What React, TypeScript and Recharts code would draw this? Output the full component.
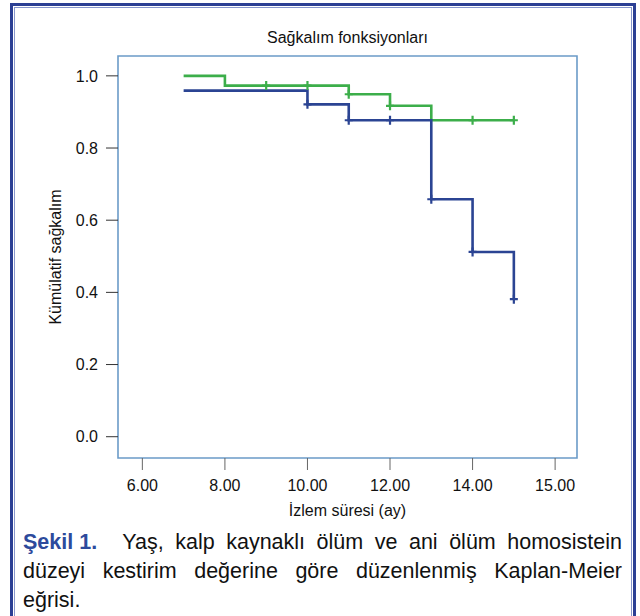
import { ComposedChart, Line, XAxis, YAxis, ReferenceArea } from "recharts";

// x axis: SPSS puts the last tick at 16 but labels it 15.00
const xTicks = [6, 8, 10, 12, 14, 16];
const xTickLabels = ["6.00", "8.00", "10.00", "12.00", "14.00", "15.00"];
const yTicks = [0, 0.2, 0.4, 0.6, 0.8, 1.0];
const xDomain = [5.41, 16.53];
const yDomain = [-0.059, 1.055];

// green group
const greenTime = [7, 8, 11, 12, 13, 15];
const greenSurv = [1.0, 0.973, 0.949, 0.917, 0.877, 0.877];
const greenCensorTime = [9, 10, 11, 12, 14, 15];
const greenCensorSurv = [0.973, 0.973, 0.949, 0.917, 0.877, 0.877];

// blue group
const blueTime = [7, 10, 11, 13, 14, 15];
const blueSurv = [0.959, 0.921, 0.877, 0.658, 0.512, 0.381];
const blueCensorTime = [10, 11, 12, 13, 14, 15];
const blueCensorSurv = [0.921, 0.877, 0.877, 0.658, 0.512, 0.381];

const GREEN = "#3cae4a";
const BLUE = "#2b4493";
const FONT = '"Liberation Sans", Arial, Helvetica, sans-serif';

const toRows = (t: number[], s: number[]) => t.map((v, i) => ({ t: v, s: s[i] }));

const plusMark = (color: string) => (props: any) => {
  const { cx, cy, index } = props;
  if (cx == null || cy == null) return <g key={index} />;
  return (
    <path
      key={index}
      d={`M${cx - 4},${cy}H${cx + 4}M${cx},${cy - 4.5}V${cy + 4.5}`}
      stroke={color}
      strokeWidth={2.2}
      fill="none"
    />
  );
};

export default function App() {
  return (
    <div
      style={{
        position: "absolute",
        left: 0,
        top: 0,
        width: 640,
        height: 616,
        background: "#fff",
        overflow: "hidden",
        fontFamily: FONT,
      }}
    >
      {/* double frame */}
      <div
        style={{
          position: "absolute",
          left: 10,
          top: 3,
          width: 620,
          height: 660,
          border: "3px solid #2b3f94",
        }}
      />
      <div
        style={{
          position: "absolute",
          left: 14,
          top: 7,
          width: 616,
          height: 660,
          border: "1px solid #8796cc",
        }}
      />

      <div
        style={{
          position: "absolute",
          left: 118,
          top: 29,
          width: 459,
          textAlign: "center",
          fontSize: 16,
          lineHeight: "18px",
          color: "#111",
        }}
      >
        Sağkalım fonksiyonları
      </div>

      <div style={{ position: "absolute", left: 0, top: 0 }}>
        <ComposedChart
          width={640}
          height={530}
          margin={{ top: 56, right: 63, bottom: 12, left: 0 }}
        >
          <XAxis
            dataKey="t"
            type="number"
            domain={xDomain}
            allowDataOverflow
            ticks={xTicks}
            interval={0}
            tickFormatter={(v: number, i: number) => xTickLabels[i]}
            axisLine={false}
            stroke="#666"
            tickSize={12}
            tickMargin={10}
            tick={{ fill: "#111", fontSize: 16, fontFamily: FONT }}
            height={60}
            label={{
              value: "İzlem süresi (ay)",
              position: "insideBottom",
              offset: 2,
              fill: "#111",
              fontSize: 16,
              fontFamily: FONT,
            }}
          />
          <YAxis
            type="number"
            domain={yDomain}
            allowDataOverflow
            ticks={yTicks}
            interval={0}
            tickFormatter={(v: number) => v.toFixed(1)}
            axisLine={false}
            stroke="#333"
            tickSize={12}
            tickMargin={8}
            tick={{ fill: "#111", fontSize: 16, fontFamily: FONT }}
            width={118}
            label={{
              value: "Kümülatif sağkalım",
              angle: -90,
              position: "insideLeft",
              offset: 55,
              fill: "#111",
              fontSize: 16,
              fontFamily: FONT,
              style: { textAnchor: "middle" },
            }}
          />
          <ReferenceArea
            x1={xDomain[0]}
            x2={xDomain[1]}
            y1={yDomain[0]}
            y2={yDomain[1]}
            fill="none"
            stroke="#6b9bc8"
            strokeWidth={1.6}
          />
          <Line
            data={toRows(greenTime, greenSurv)}
            dataKey="s"
            type="stepAfter"
            stroke={GREEN}
            strokeWidth={2.6}
            dot={false}
            activeDot={false}
            isAnimationActive={false}
          />
          <Line
            data={toRows(greenCensorTime, greenCensorSurv)}
            dataKey="s"
            stroke="none"
            dot={plusMark(GREEN)}
            activeDot={false}
            isAnimationActive={false}
          />
          <Line
            data={toRows(blueTime, blueSurv)}
            dataKey="s"
            type="stepAfter"
            stroke={BLUE}
            strokeWidth={2.6}
            dot={false}
            activeDot={false}
            isAnimationActive={false}
          />
          <Line
            data={toRows(blueCensorTime, blueCensorSurv)}
            dataKey="s"
            stroke="none"
            dot={plusMark(BLUE)}
            activeDot={false}
            isAnimationActive={false}
          />
        </ComposedChart>
      </div>

      {/* caption */}
      <div
        style={{
          position: "absolute",
          left: 23,
          top: 528,
          width: 599,
          fontSize: 21.5,
          lineHeight: "29px",
          color: "#111",
        }}
      >
        <div style={{ textAlign: "justify", textAlignLast: "justify" }}>
          <span
            style={{
              display: "inline-block",
              color: "#2d4a9c",
              fontWeight: "bold",
              marginRight: 14,
            }}
          >
            Şekil 1.
          </span>{" "}
          Yaş, kalp kaynaklı ölüm ve ani ölüm homosistein
        </div>
        <div style={{ textAlign: "justify", textAlignLast: "justify" }}>
          düzeyi kestirim değerine göre düzenlenmiş Kaplan-Meier
        </div>
        <div>eğrisi.</div>
      </div>
    </div>
  );
}
